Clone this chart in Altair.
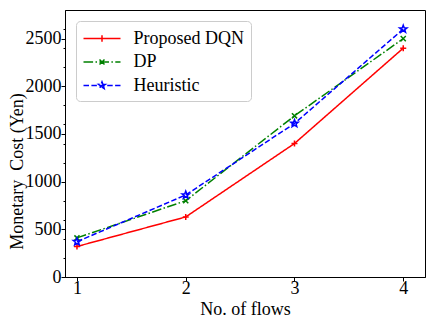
import math
import altair as alt
import pandas as pd

# ---- data ----
flows = [1, 2, 3, 4]
series_names = ["Proposed DQN", "DP", "Heuristic"]
dqn_cost = [320, 630, 1400, 2400]
dp_cost = [410, 800, 1690, 2500]
heuristic_cost = [370, 860, 1610, 2600]
y_major_ticks = [0, 500, 1000, 1500, 2000, 2500]
y_minor_ticks = [200, 400, 600, 800, 1200, 1400, 1600, 1800, 2200, 2400, 2600]
x_ticks = [1, 2, 3, 4]

colors = ["#ff0000", "#008000", "#0000ff"]
dashes = [[1, 0], [9.6, 2.4, 1.5, 2.4], [5.5, 2.4]]


def star(R, cx=0.0, cy=0.0):
    pts = []
    for k in range(10):
        ang = math.radians(-90 + 36 * k)
        rad = R if k % 2 == 0 else R * 0.42
        pts.append(f"{cx + rad * math.cos(ang):.3f},{cy + rad * math.sin(ang):.3f}")
    return "M" + "L".join(pts) + "Z"


marker_paths = [
    "M-1,0H1M0,-1V1",
    "M-0.85,-0.85L0.85,0.85M-0.85,0.85L0.85,-0.85",
    star(1.3),
]
legend_paths = [
    "M-1,0H2.7M0.85,-0.32V0.32",
    "M-1,0H2.7M0.6,-0.25L1.1,0.25M0.6,0.25L1.1,-0.25",
    "M-1,0H2.7" + star(0.36, cx=0.85),
]

rows = []
for name, vals in zip(series_names, [dqn_cost, dp_cost, heuristic_cost]):
    for f, v in zip(flows, vals):
        rows.append({"flows": f, "cost": v, "series": name})
df = pd.DataFrame(rows)

FONT = "Liberation Serif"
axis_style = dict(
    labelFont=FONT, titleFont=FONT, labelFontSize=18, titleFontSize=18,
    titleFontWeight="normal", labelColor="black", titleColor="black",
    domainColor="black", tickColor="black", domainWidth=1, tickWidth=1, grid=False,
)

x_enc = alt.X(
    "flows:Q",
    scale=alt.Scale(domain=[0.89, 4.2], nice=False, zero=False),
    axis=alt.Axis(values=x_ticks, format="d", title="No. of flows", tickSize=4,
                  labelPadding=-2, titlePadding=3, **axis_style),
)
all_y = sorted(set(y_major_ticks + y_minor_ticks))
y_enc = alt.Y(
    "cost:Q",
    scale=alt.Scale(domain=[0, 2800], nice=False),
    axis=alt.Axis(
        values=all_y,
        labelExpr="datum.value % 500 === 0 ? datum.label : ''",
        format="d",
        labelOverlap=False,
        tickSize={"condition": {"test": "datum.value % 500 === 0", "value": 4}, "value": 2},
        title="Monetary\u00a0 Cost (Yen)",
        labelPadding=0,
        titleX=-48,
        titleY=161,
        titleBaseline="middle",
        **axis_style,
    ),
)

color_scale = alt.Scale(domain=series_names, range=colors)
dash_scale = alt.Scale(domain=series_names, range=dashes)

base = alt.Chart(df)

lines = base.mark_line(strokeWidth=1.5).encode(
    x=x_enc, y=y_enc,
    color=alt.Color("series:N", scale=color_scale, legend=None),
    strokeDash=alt.StrokeDash("series:N", scale=dash_scale, legend=None),
)

points = base.mark_point(filled=False, strokeWidth=1.5, size=36, opacity=1).encode(
    x=x_enc, y=y_enc,
    color=alt.Color("series:N", scale=color_scale, legend=None),
    shape=alt.Shape("series:N", scale=alt.Scale(domain=series_names, range=marker_paths), legend=None),
)

legend_layer = base.mark_point(filled=False, strokeWidth=1.5, opacity=1).encode(
    x=x_enc, y=y_enc,
    color=alt.Color("series:N", scale=color_scale, title=None),
    strokeDash=alt.StrokeDash("series:N", scale=dash_scale, title=None),
    shape=alt.Shape("series:N", scale=alt.Scale(domain=series_names, range=legend_paths), title=None),
).transform_filter("false")

chart = (
    alt.layer(lines, points, legend_layer)
    .resolve_scale(color="independent", strokeDash="independent", shape="independent")
    .properties(
        width=360, height=267, autosize="none",
        padding={"left": 57, "top": 2, "right": 2, "bottom": 42},
    )
    .configure(font=FONT)
    .configure_view(stroke="black", strokeWidth=1)
    .configure_axis(**axis_style)
    .configure_legend(
        orient="none", legendX=11, legendY=11, padding=6.5,
        fillColor="white", strokeColor="#cccccc", cornerRadius=4,
        labelFont=FONT, labelFontSize=18, labelColor="black",
        symbolSize=400, symbolStrokeWidth=1.5, rowPadding=3.5,
        labelOffset=29, labelLimit=0,
    )
)

chart.save("out.html", embed_options={"renderer": "svg", "actions": False})
